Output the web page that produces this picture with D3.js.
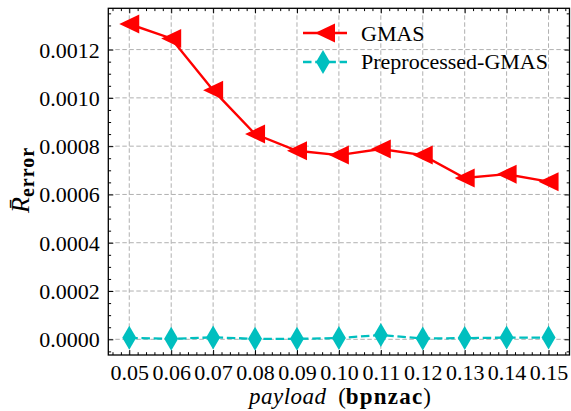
<!DOCTYPE html>
<html lang="en">
<head>
  <meta charset="UTF-8">
  <title>GMAS error</title>
  <script src="https://d3js.org/d3.v7.min.js"></script>
</head>
<style>
  body{ margin:0; background:#fff; }
  /* serif everywhere, close to the LaTeX look */
  text{ font-family: "Liberation Serif", "DejaVu Serif", serif; fill:#000; }
</style>
<body>
  <div id="chart"></div>
</body>
<script>
// data
var payload = [0.05, 0.06, 0.07, 0.08, 0.09, 0.10, 0.11, 0.12, 0.13, 0.14, 0.15];
var gmas = [0.001306, 0.001246, 0.001032, 0.000850, 0.000781, 0.000763, 0.000788, 0.000763, 0.000668, 0.000684, 0.000653];
var preGmas = [0.000006, 0.000002, 0.000008, 0.000002, 0.000002, 0.000005, 0.000018, 0.000003, 0.000005, 0.000007, 0.000007];
var seriesNames = ["GMAS", "Preprocessed-GMAS"];
var yTicks = [0, 0.0002, 0.0004, 0.0006, 0.0008, 0.0010, 0.0012];

var width = 571, height = 411;
// plot box (don't use "top" as a global name, it's window.top)
var pLeft = 108.3, pRight = 569.5, pTop = 8.3, pBottom = 355;

var svg = d3.select("#chart").append("svg")
  .attr("width", width)
  .attr("height", height);

// scales (matplotlib style 5% margins)
var xScale = d3.scaleLinear().domain([0.045, 0.155]).range([pLeft, pRight]);
var yScale = d3.scaleLinear().domain([-0.000065, 0.001371]).range([pBottom, pTop]);

var xMinor = d3.range(0.046, 0.1551, 0.002).filter(function(v){
  return Math.abs(Math.round(v*100) - v*100) > 1e-6;
});
var yMinor = d3.range(-0.00005, 0.00137, 0.00005).filter(function(v){
  return Math.abs(Math.round(v/0.0002) - v/0.0002) > 1e-6;
});

// grid
var grid = svg.append("g");
grid.selectAll(".gx").data(payload).enter().append("line")
  .attr("x1", function(d){ return xScale(d); })
  .attr("x2", function(d){ return xScale(d); })
  .attr("y1", pTop).attr("y2", pBottom)
  .attr("stroke", "#b0b0b0").attr("stroke-width", 1)
  .attr("stroke-dasharray", "4.5,2.5");
grid.selectAll(".gy").data(yTicks).enter().append("line")
  .attr("y1", function(d){ return yScale(d); })
  .attr("y2", function(d){ return yScale(d); })
  .attr("x1", pLeft).attr("x2", pRight)
  .attr("stroke", "#b0b0b0").attr("stroke-width", 1)
  .attr("stroke-dasharray", "4.5,2.5");

// axes, ticks pointing in on all four sides
function tickAxis(axis, transform, values, size, labels){
  var g = svg.append("g")
    .attr("transform", transform)
    .call(axis.tickValues(values).tickSize(size).tickPadding(0)
      .tickFormat(labels ? labels : ""));
  g.select(".domain").remove();
  g.selectAll("line").attr("stroke", "#000").attr("stroke-width", 1);
  return g;
}
var xb = tickAxis(d3.axisBottom(xScale), "translate(0," + pBottom + ")", payload, -5,
  function(d){ return d.toFixed(2); });
xb.selectAll("text").attr("font-size", "22px").attr("font-family", null)
  .attr("y", 9).attr("dy", "0.71em");
tickAxis(d3.axisBottom(xScale), "translate(0," + pBottom + ")", xMinor, -2.8);
tickAxis(d3.axisTop(xScale), "translate(0," + pTop + ")", payload, -5);
tickAxis(d3.axisTop(xScale), "translate(0," + pTop + ")", xMinor, -2.8);

var yl = tickAxis(d3.axisLeft(yScale), "translate(" + pLeft + ",0)", yTicks, -5,
  function(d){ return d.toFixed(4); });
yl.selectAll("text").attr("font-size", "22px").attr("font-family", null)
  .attr("x", -8.5).attr("dy", "0.34em");
tickAxis(d3.axisLeft(yScale), "translate(" + pLeft + ",0)", yMinor, -2.8);
tickAxis(d3.axisRight(yScale), "translate(" + pRight + ",0)", yTicks, -5);
tickAxis(d3.axisRight(yScale), "translate(" + pRight + ",0)", yMinor, -2.8);

// frame
svg.append("rect")
  .attr("x", pLeft).attr("y", pTop)
  .attr("width", pRight - pLeft).attr("height", pBottom - pTop)
  .attr("fill", "none").attr("stroke", "#000").attr("stroke-width", 1.3);

// lines
var lineGen = d3.line()
  .x(function(d, i){ return xScale(payload[i]); })
  .y(function(d){ return yScale(d); });

var triangle = "M-10,0L10,-9.5L10,9.5Z";
var diamond = "M0,-12L7,0L0,12L-7,0Z";

svg.append("path").datum(preGmas)
  .attr("d", lineGen)
  .attr("fill", "none").attr("stroke", "#00bfbf")
  .attr("stroke-width", 2.3).attr("stroke-dasharray", "8.5,3.7");
svg.selectAll(".dmd").data(preGmas).enter().append("path")
  .attr("d", diamond)
  .attr("transform", function(d, i){ return "translate(" + xScale(payload[i]) + "," + yScale(d) + ")"; })
  .attr("fill", "#00bfbf");

svg.append("path").datum(gmas)
  .attr("d", lineGen)
  .attr("fill", "none").attr("stroke", "#ff0000")
  .attr("stroke-width", 2.4);
svg.selectAll(".tri").data(gmas).enter().append("path")
  .attr("d", triangle)
  .attr("transform", function(d, i){ return "translate(" + xScale(payload[i]) + "," + yScale(d) + ")"; })
  .attr("fill", "#ff0000");

// legend
var legend = svg.append("g");
legend.append("line")
  .attr("x1", 303).attr("x2", 347).attr("y1", 33).attr("y2", 33)
  .attr("stroke", "#ff0000").attr("stroke-width", 2.4);
legend.append("path").attr("d", triangle)
  .attr("transform", "translate(325,33)").attr("fill", "#ff0000");
legend.append("line")
  .attr("x1", 303).attr("x2", 347).attr("y1", 62).attr("y2", 62)
  .attr("stroke", "#00bfbf").attr("stroke-width", 2.3)
  .attr("stroke-dasharray", "8.5,3.7");
legend.append("path").attr("d", diamond)
  .attr("transform", "translate(323,62)").attr("fill", "#00bfbf");
legend.selectAll(".lt").data(seriesNames).enter().append("text")
  .attr("x", 361)
  .attr("y", function(d, i){ return 40.5 + i*28.7; })
  .attr("font-size", "22px")
  .text(function(d){ return d; });

// axis labels
var xl = svg.append("text")
  .attr("x", 340).attr("y", 404)
  .attr("text-anchor", "middle")
  .attr("font-size", "23px");
xl.append("tspan").attr("font-style", "italic").attr("letter-spacing", "0.5px").text("payload");
xl.append("tspan").text("\u2002(");
xl.append("tspan").attr("font-weight", "bold").attr("letter-spacing", "1.2px").text("bpnzac");
xl.append("tspan").text(")");

var ylab = svg.append("text")
  .attr("transform", "translate(29,213) rotate(-90)");
ylab.append("tspan").attr("font-style", "italic").attr("font-size", "26px").text("R\u0304");
ylab.append("tspan").attr("font-weight", "bold").attr("font-size", "20px")
  .attr("dy", 5).attr("letter-spacing", "1px").text("error");
</script>
</html>
